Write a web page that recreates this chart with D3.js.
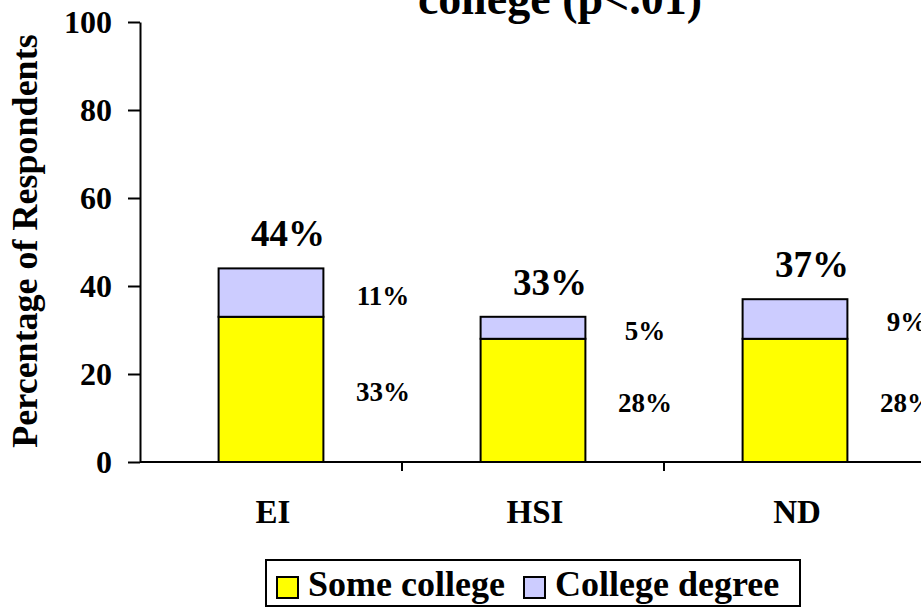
<!DOCTYPE html>
<html><head><meta charset="utf-8">
<script src="https://cdn.jsdelivr.net/npm/d3@7"></script>
<style>
body{margin:0;background:#fff}
text{font-family:"Liberation Serif","Times New Roman",serif;font-weight:bold;fill:#000}
</style>
</head><body><svg id="c" width="921" height="610"></svg>
<script>
const categories = ["EI", "HSI", "ND"];
const someCollege = [33, 28, 28];
const collegeDegree = [11, 5, 9];
const totals = [44, 33, 37];
const yTicks = [0, 20, 40, 60, 80, 100];
const seriesNames = ["Some college", "College degree"];
const seriesColors = ["#FFFF00", "#CCCCFF"];
const titleText = "college (p<.01)";
const yTitle = "Percentage of Respondents";

const svg = d3.select("#c");
const x = d3.scaleBand().domain(categories).range([140, 926]).paddingInner(0.6).paddingOuter(0.3);
const y = d3.scaleLinear().domain([0, 100]).range([462, 22]);

// title (first line cut off above)
svg.append("text").attr("x", 560).attr("y", 14).attr("text-anchor", "middle")
  .style("font-size", "46px").text(titleText);

// stacked data
const stack = d3.stack().keys([0, 1]).value((d, k) => d[k]);
const rows = categories.map((c, i) => { const r = [someCollege[i], collegeDegree[i]]; r.cat = c; return r; });
const layers = stack(rows);

layers.forEach((layer, li) => {
  svg.append("g").selectAll("rect").data(layer).join("rect")
    .attr("x", d => x(d.data.cat))
    .attr("width", x.bandwidth())
    .attr("y", d => y(d[1]))
    .attr("height", d => y(d[0]) - y(d[1]))
    .attr("fill", seriesColors[li])
    .attr("stroke", "#000").attr("stroke-width", 2);
  // segment labels
  svg.append("g").selectAll("text").data(layer).join("text")
    .attr("x", d => x(d.data.cat) + x.bandwidth() / 2 + 112)
    .attr("y", d => (y(d[0]) + y(d[1])) / 2 + 12)
    .attr("text-anchor", "middle")
    .style("font-size", "27px")
    .text(d => (d[1] - d[0]) + "%");
});

// totals
svg.append("g").selectAll("text").data(categories).join("text")
  .attr("x", (c) => x(c) + x.bandwidth() / 2 + 17)
  .attr("y", (c, i) => y(totals[i]) - 22)
  .attr("text-anchor", "middle")
  .style("font-size", "37px")
  .text((c, i) => totals[i] + "%");

// y axis
const yAxis = svg.append("g").attr("transform", "translate(140,0)")
  .call(d3.axisLeft(y).tickValues(yTicks).tickSize(12).tickSizeOuter(0).tickPadding(16));
yAxis.select(".domain").attr("stroke", "#000").attr("stroke-width", 2);
yAxis.selectAll(".tick line").attr("stroke", "#000").attr("stroke-width", 2);
yAxis.selectAll(".tick text").style("font-size", "32px")
  .style("font-family", '"Liberation Serif","Times New Roman",serif').style("font-weight", "bold").attr("fill", "#000");

// x axis
const x0 = x.range()[0], x1 = x.range()[1];
svg.append("line").attr("x1", x0).attr("x2", x1).attr("y1", y(0)).attr("y2", y(0))
  .attr("stroke", "#000").attr("stroke-width", 2);
svg.append("g").selectAll("line").data(categories).join("line")
  .attr("x1", c => x(c) + x.bandwidth() + x.step() * x.paddingInner() / 2)
  .attr("x2", c => x(c) + x.bandwidth() + x.step() * x.paddingInner() / 2)
  .attr("y1", y(0)).attr("y2", y(0) + 9)
  .attr("stroke", "#000").attr("stroke-width", 2);
svg.append("g").selectAll("text").data(categories).join("text")
  .attr("x", c => x(c) + x.bandwidth() / 2 + 2)
  .attr("y", 523)
  .attr("text-anchor", "middle")
  .style("font-size", "33px")
  .text(c => c);

// y title
svg.append("text").attr("transform", "translate(37,241) rotate(-90)")
  .attr("text-anchor", "middle").style("font-size", "36px").text(yTitle);

// legend
const lg = svg.append("g");
lg.append("rect").attr("x", 266).attr("y", 560).attr("width", 534).attr("height", 46)
  .attr("fill", "#fff").attr("stroke", "#000").attr("stroke-width", 2);
const legendX = [277, 524];
seriesNames.forEach((n, i) => {
  lg.append("rect").attr("x", legendX[i]).attr("y", 577).attr("width", 21).attr("height", 21)
    .attr("fill", seriesColors[i]).attr("stroke", "#000").attr("stroke-width", 2);
  lg.append("text").attr("x", legendX[i] + 31).attr("y", 596)
    .style("font-size", "36px").text(n);
});
</script>
</body></html>
